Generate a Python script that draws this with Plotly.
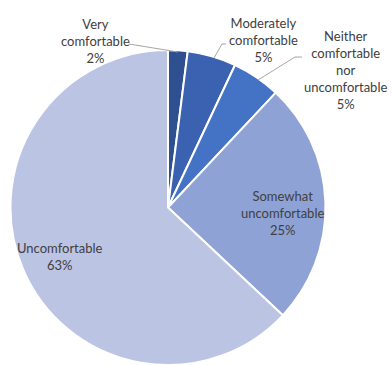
import plotly.graph_objects as go

categories = ["Very comfortable", "Moderately comfortable",
              "Neither comfortable nor uncomfortable",
              "Somewhat uncomfortable", "Uncomfortable"]
values = [2, 5, 5, 25, 63]
label_texts = ["Very<br>comfortable<br>2%",
               "Moderately<br>comfortable<br>5%",
               "Neither<br>comfortable<br>nor<br>uncomfortable<br>5%",
               "Somewhat<br>uncomfortable<br>25%",
               "Uncomfortable<br>63%"]
colors = ["#2E5090", "#3A62B0", "#4472C4", "#8EA2D5", "#BBC4E3"]

W, H = 392, 365
fig = go.Figure()
fig.add_trace(go.Pie(
    labels=categories, values=values, sort=False, direction="clockwise",
    rotation=0, marker=dict(colors=colors, line=dict(color="white", width=2)),
    textinfo="none", hoverinfo="label+percent", showlegend=False,
    domain=dict(x=[(168 - 157.5) / W, (168 + 157.5) / W], y=[0, 315 / H]),
))

def px(x, y):
    return x / W, 1 - y / H

label_pos = [(95, 41), (263, 40), (345, 70), (282, 213), (60, 256)]
for t, (x, y) in zip(label_texts, label_pos):
    ax_, ay_ = px(x, y)
    fig.add_annotation(x=ax_, y=ay_, xref="paper", yref="paper", text=t,
                       showarrow=False, align="center",
                       xanchor="center", yanchor="middle",
                       font=dict(family="Lato", size=13, color="#404040"))

leaders = [
    [(129, 44), (178, 52)],
    [(226, 44), (222, 44), (214, 58)],
    [(302, 57), (295, 57), (258, 80)],
]
for pts in leaders:
    path = "M " + " L ".join(f"{px(x, y)[0]},{px(x, y)[1]}" for x, y in pts)
    fig.add_shape(type="path", path=path, xref="paper", yref="paper",
                  line=dict(color="#A6A6A6", width=1))

fig.update_layout(width=W, height=H, margin=dict(l=0, r=0, t=0, b=0),
                  paper_bgcolor="white", plot_bgcolor="white")
fig.write_html("out.html")
